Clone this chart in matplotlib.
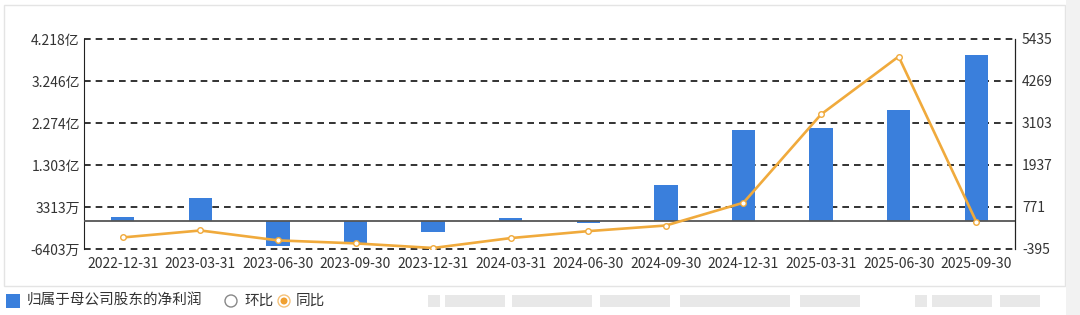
import numpy as np
import matplotlib
matplotlib.use("Agg")
import matplotlib.pyplot as plt
from matplotlib.patches import Rectangle, Circle

plt.rcParams['font.family'] = ['Noto Sans CJK SC', 'DejaVu Sans']

dates = ["2022-12-31", "2023-03-31", "2023-06-30", "2023-09-30", "2023-12-31", "2024-03-31",
         "2024-06-30", "2024-09-30", "2024-12-31", "2025-03-31", "2025-06-30", "2025-09-30"]
# net profit attributable to parent, in 亿
profit = [0.107, 0.536, -0.574, -0.49, -0.25, 0.069, -0.045, 0.849, 2.104, 2.165, 2.578, 3.848]
# year-on-year change
yoy = [-74, 119, -156, -239, -367, -92, 101, 257, 890, 3342, 4948, 367]

left_ticks = [-0.6403, 0.3313, 1.303, 2.274, 3.246, 4.218]
left_labels = ["-6403万", "3313万", "1.303亿", "2.274亿", "3.246亿", "4.218亿"]
right_ticks = [-395, 771, 1937, 3103, 4269, 5435]

bar_color = "#3a7fdc"
line_color = "#f0aa3c"
txt = "#333333"

fig = plt.figure(figsize=(10.8, 3.15), dpi=100)
ax = fig.add_axes([84/1080, 1-249/315, (1015-84)/1080, (249-39)/315])
x = np.arange(len(dates))

ax.bar(x, profit, width=0.3, color=bar_color, zorder=3)
ax.axhline(0, color="#555555", lw=1.3, zorder=4)
ax.set_ylim(left_ticks[0], left_ticks[-1])
ax.set_xlim(-0.5, len(dates) - 0.5)
ax.set_yticks(left_ticks)
ax.set_yticklabels(left_labels)
ax.set_xticks(x)
ax.set_xticklabels(dates)
ax.yaxis.grid(True, color="#111111", linestyle=(0, (4, 3)), lw=1.2)
for g in ax.get_ygridlines():
    g.set_clip_on(False)
ax.set_axisbelow(True)
for s in ["top", "bottom"]:
    ax.spines[s].set_visible(False)
ax.spines["left"].set_color("#222222")
ax.tick_params(length=0, labelsize=10, colors=txt, pad=3)
ax.tick_params(axis="x", pad=6)

ax2 = ax.twinx()
ax2.plot(x, yoy, color=line_color, lw=1.9, marker="o", ms=4,
         mfc="white", mec=line_color, mew=1, zorder=5)
ax2.set_ylim(right_ticks[0], right_ticks[-1])
ax2.set_yticks(right_ticks)
ax2.set_yticklabels([str(v) for v in right_ticks])
for s in ["top", "bottom", "left"]:
    ax2.spines[s].set_visible(False)
ax2.spines["right"].set_color("#222222")
ax2.tick_params(length=0, labelsize=10, colors=txt, pad=5)

# frame, separator and legend in pixel coordinates
lax = fig.add_axes([0, 0, 1, 1], zorder=-1)
lax.set_xlim(0, 1080)
lax.set_ylim(315, 0)
lax.axis("off")
lax.add_patch(Rectangle((4, 5), 1061, 281, fill=False, ec="#e4e4e4", lw=1))
lax.add_patch(Rectangle((1066, 0), 14, 315, color="#f2f2f2", lw=0))

fig_leg = fig.add_axes([0, 0, 1, 1], zorder=5)
fig_leg.set_xlim(0, 1080)
fig_leg.set_ylim(315, 0)
fig_leg.axis("off")
fig_leg.add_patch(Rectangle((6, 294), 14, 14, color=bar_color, lw=0))
fig_leg.text(27, 301, "归属于母公司股东的净利润", fontsize=10.5, color=txt, va="center")
fig_leg.add_patch(Circle((231, 301), 6, fill=False, ec="#888888", lw=1))
fig_leg.text(244, 301, "环比", fontsize=10.5, color=txt, va="center")
fig_leg.add_patch(Circle((284, 301), 6, fc="white", ec="#f5c27a", lw=1))
fig_leg.add_patch(Circle((284, 301), 3.5, fc="#f0a030", ec="none"))
fig_leg.text(296, 301, "同比", fontsize=10.5, color=txt, va="center")
# blurred, unreadable legend entries on the right
for bx, bw in [(428, 12), (445, 60), (512, 80), (600, 70), (680, 110), (800, 60), (915, 12), (932, 60), (1000, 40)]:
    fig_leg.add_patch(Rectangle((bx, 295), bw, 12, color="#e8e8e8", lw=0))

fig.savefig("out.png", dpi=100)
